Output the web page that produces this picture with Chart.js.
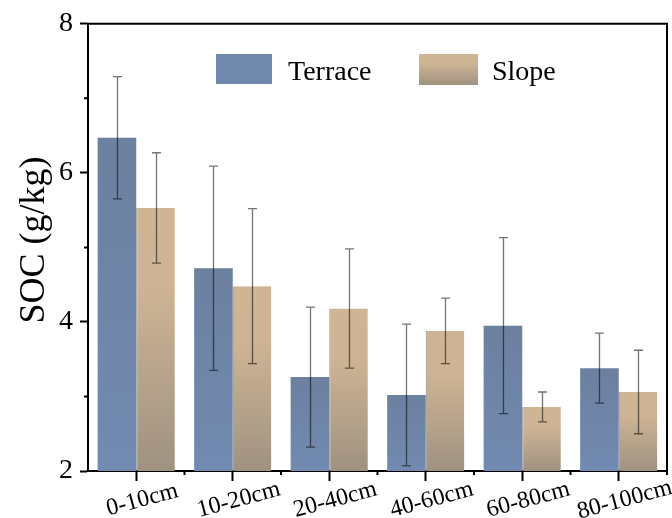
<!DOCTYPE html>
<html>
<head>
<meta charset="utf-8">
<script src="https://cdn.jsdelivr.net/npm/chart.js@4.4.1/dist/chart.umd.min.js"></script>
<style>
  html, body { margin: 0; padding: 0; background: #fff; }
  #wrap { width: 672px; height: 518px; }
</style>
</head>
<body>
<div id="wrap"><canvas id="c" width="672" height="518"></canvas></div>
<script>
// Soil organic carbon by depth, terrace vs slope (mean ± error)
const categories = ['0-10cm', '10-20cm', '20-40cm', '40-60cm', '60-80cm', '80-100cm'];
const terrace    = [6.47, 4.72, 3.26, 3.02, 3.95, 3.38];
const terraceErr = [0.82, 1.37, 0.94, 0.95, 1.18, 0.47];
const slope      = [5.53, 4.48, 4.18, 3.88, 2.86, 3.06];
const slopeErr   = [0.74, 1.04, 0.80, 0.44, 0.20, 0.56];
const yMajorTicks = [2, 4, 6, 8];
const yMinorTicks = [3, 5, 7];

const SERIF = "'Liberation Serif', 'Times New Roman', serif";

// vertical gradient spanning one bar, from its top down to the baseline
function barGradient(ctx, stops) {
  const chart = ctx.chart;
  if (!chart.chartArea || !chart.scales.y) return stops[0][1];
  const ys = chart.scales.y;
  const top = ys.getPixelForValue(ctx.raw);
  const bottom = ys.getPixelForValue(ys.min);
  const g = chart.ctx.createLinearGradient(0, top, 0, bottom);
  stops.forEach(([stop, col]) => g.addColorStop(stop, col));
  return g;
}
const terraceStops = [[0, '#6c809f'], [1, '#728ab1']];
const slopeStops   = [[0, '#d0b595'], [0.3, '#ceb494'], [1, '#9f9281']];

function rectGradient(c, y, h, stops) {
  const g = c.createLinearGradient(0, y, 0, y + h);
  stops.forEach(([s, col]) => g.addColorStop(s, col));
  return g;
}

const errors = [terraceErr, slopeErr];

const decorations = {
  id: 'decorations',
  afterDatasetsDraw(chart) {
    const c = chart.ctx;
    const ys = chart.scales.y;
    // error bars
    c.save();
    c.strokeStyle = 'rgba(0,0,0,0.55)';
    c.lineWidth = 1.3;
    chart.data.datasets.forEach((ds, di) => {
      const meta = chart.getDatasetMeta(di);
      meta.data.forEach((bar, i) => {
        const v = ds.data[i], e = errors[di][i];
        const x = Math.round(bar.x) + 0.5;
        const yt = ys.getPixelForValue(v + e);
        const yb = ys.getPixelForValue(v - e);
        c.beginPath();
        c.moveTo(x, yt); c.lineTo(x, yb);
        c.moveTo(x - 4.5, yt); c.lineTo(x + 4.5, yt);
        c.moveTo(x - 4.5, yb); c.lineTo(x + 4.5, yb);
        c.stroke();
      });
    });
    c.restore();
  },
  afterDraw(chart) {
    const c = chart.ctx;
    const a = chart.chartArea;
    const xs = chart.scales.x, ys = chart.scales.y;
    c.save();
    // top and right frame lines
    c.strokeStyle = '#000';
    c.lineWidth = 2;
    c.beginPath();
    c.moveTo(a.left - 1, a.top); c.lineTo(a.right, a.top); c.lineTo(a.right, a.bottom + 1);
    c.stroke();
    // minor ticks on y
    c.beginPath();
    yMinorTicks.forEach(v => {
      const y = ys.getPixelForValue(v);
      c.moveTo(a.left - 4, y); c.lineTo(a.left, y);
    });
    // minor ticks on x at category boundaries
    const step = xs.getPixelForValue(1) - xs.getPixelForValue(0);
    for (let i = 1; i <= categories.length; i++) {
      const x = i < categories.length ? xs.getPixelForValue(i) - step / 2 : a.right;
      c.moveTo(x, a.bottom); c.lineTo(x, a.bottom + 4);
    }
    c.stroke();

    // category labels, tilted
    c.fillStyle = '#000';
    c.font = '24px ' + SERIF;
    c.textAlign = 'center';
    c.textBaseline = 'middle';
    categories.forEach((lab, i) => {
      const x = xs.getPixelForValue(i) + 6;
      c.save();
      c.translate(x, a.bottom + 29);
      c.rotate(-15 * Math.PI / 180);
      c.fillText(lab, 0, 0);
      c.restore();
    });

    // y-axis title
    c.font = '36px ' + SERIF;
    c.save();
    c.translate(35, 240);
    c.rotate(-Math.PI / 2);
    c.textAlign = 'center';
    c.textBaseline = 'middle';
    c.fillText('SOC (g/kg)', 0, 0);
    c.restore();

    // legend inside the plot
    c.font = '28px ' + SERIF;
    c.textAlign = 'left';
    c.textBaseline = 'alphabetic';
    c.fillStyle = rectGradient(c, 54, 30, [[0, '#7088aa'], [1, '#7189ad']]);
    c.fillRect(216, 54, 56, 30);
    c.fillStyle = '#000';
    c.fillText('Terrace', 288, 80);
    c.fillStyle = rectGradient(c, 54, 31, slopeStops);
    c.fillRect(419, 54, 59, 31);
    c.fillStyle = '#000';
    c.fillText('Slope', 492, 80);
    c.restore();
  }
};

new Chart(document.getElementById('c'), {
  type: 'bar',
  data: {
    labels: categories,
    datasets: [
      {
        label: 'Terrace',
        data: terrace,
        backgroundColor: ctx => barGradient(ctx, terraceStops),
        borderWidth: 0
      },
      {
        label: 'Slope',
        data: slope,
        backgroundColor: ctx => barGradient(ctx, slopeStops),
        borderColor: 'rgba(60,60,60,0.6)',
        borderWidth: { left: 1, right: 0, top: 0, bottom: 0 },
        borderSkipped: false
      }
    ]
  },
  options: {
    responsive: false,
    animation: false,
    devicePixelRatio: 1,
    layout: { autoPadding: false, padding: { top: 18, right: 5, left: 0, bottom: 0 } },
    plugins: { legend: { display: false }, tooltip: { enabled: false } },
    datasets: { bar: { categoryPercentage: 0.8, barPercentage: 1.0 } },
    scales: {
      x: {
        offset: true,
        afterFit: s => { s.height = 47; },
        grid: { offset: false, drawOnChartArea: false, drawTicks: true, tickLength: 10, tickWidth: 2, tickColor: '#000' },
        border: { display: true, color: '#000', width: 2 },
        ticks: { display: false }
      },
      y: {
        min: 2, max: 8,
        afterFit: s => { s.width = 88; },
        afterBuildTicks: s => { s.ticks = yMajorTicks.map(v => ({ value: v })); },
        grid: { drawOnChartArea: false, drawTicks: true, tickLength: 8, tickWidth: 2, tickColor: '#000' },
        border: { display: true, color: '#000', width: 2 },
        ticks: { color: '#000', padding: 7, font: { family: SERIF, size: 28 } }
      }
    }
  },
  plugins: [decorations]
});
</script>
</body>
</html>
